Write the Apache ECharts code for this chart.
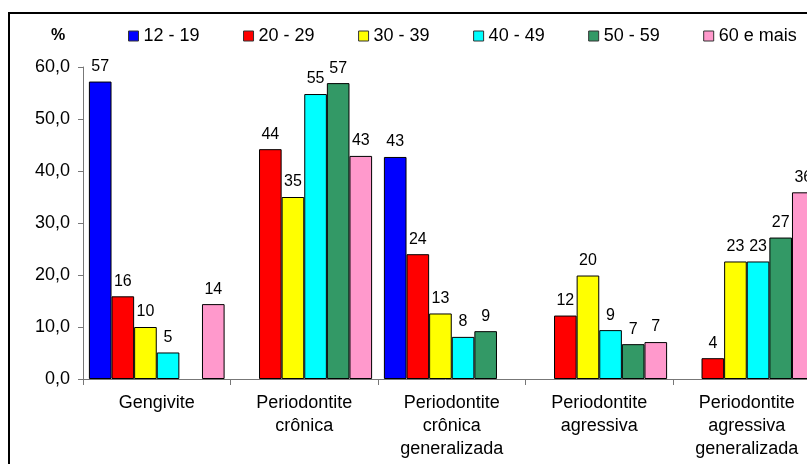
<!DOCTYPE html>
<html lang="pt">
<head>
    <meta charset="UTF-8">
    <title>Doença periodontal por faixa etária</title>
    <script src="https://cdn.jsdelivr.net/npm/echarts/dist/echarts.min.js"></script>
    <style>
        html, body { margin: 0; padding: 0; background: #fff; }
        #main { width: 807px; height: 464px; }
    </style>
</head>
<body>
    <div id="main"></div>
    <script>
        // categorias e faixas etárias
        var categorias = ['Gengivite', 'Periodontite\ncrônica', 'Periodontite\ncrônica\ngeneralizada',
            'Periodontite\nagressiva', 'Periodontite\nagressiva\ngeneralizada'];
        var faixas = ['12 - 19', '20 - 29', '30 - 39', '40 - 49', '50 - 59', '60 e mais'];
        var cores = ['#0000FF', '#FF0000', '#FFFF00', '#00FFFF', '#339966', '#FF99CC'];

        // valores (%) por faixa, na ordem das categorias
        var v12_19 = [57.2, null, 42.7, null, null];
        var v20_29 = [15.9, 44.2, 24.0, 12.2, 4.0];
        var v30_39 = [10.0, 35.0, 12.6, 19.9, 22.6];
        var v40_49 = [5.1, 54.8, 8.1, 9.4, 22.6];
        var v50_59 = [null, 56.9, 9.2, 6.7, 27.2];
        var v60_mais = [14.4, 42.9, null, 7.1, 35.9];
        var valores = [v12_19, v20_29, v30_39, v40_49, v50_59, v60_mais];

        var yTicks = { min: 0, max: 60, interval: 10 };

        var chartDom = document.getElementById('main');
        var myChart = echarts.init(chartDom);
        var fonte = 'Arial, "Liberation Sans", sans-serif';

        var series = faixas.map(function (nome, i) {
            return {
                name: nome,
                type: 'bar',
                data: valores[i],
                barGap: 0,
                barCategoryGap: '8%',
                itemStyle: { color: cores[i], borderColor: '#000', borderWidth: 1 },
                label: {
                    show: true,
                    position: 'top',
                    distance: 7,
                    color: '#000',
                    fontSize: 16,
                    fontFamily: fonte,
                    formatter: function (p) { return Math.round(p.value); }
                }
            };
        });

        var option = {
            animation: false,
            backgroundColor: '#fff',
            title: {
                text: '%',
                left: 46,
                top: 23,
                textStyle: { fontSize: 16, fontWeight: 'bold', color: '#000', fontFamily: fonte }
            },
            legend: {
                left: 123,
                top: 22,
                width: 1000,
                itemWidth: 10,
                itemHeight: 10,
                itemGap: 43.5,
                icon: 'rect',
                itemStyle: { borderColor: '#333', borderWidth: 1 },
                textStyle: { fontSize: 18, color: '#000', fontFamily: fonte },
                data: faixas
            },
            grid: {
                left: 83,
                top: 67,
                right: -13.5,
                bottom: 85,
                containLabel: false,
                outerBoundsMode: 'none'
            },
            xAxis: {
                type: 'category',
                data: categorias,
                axisLine: { lineStyle: { color: '#777', width: 1 } },
                axisTick: { show: true, length: 6, lineStyle: { color: '#777' } },
                axisLabel: {
                    interval: 0,
                    margin: 13,
                    fontSize: 18,
                    lineHeight: 23,
                    color: '#000',
                    fontFamily: fonte
                }
            },
            yAxis: {
                type: 'value',
                min: yTicks.min,
                max: yTicks.max,
                interval: yTicks.interval,
                splitLine: { show: false },
                axisLine: { show: true, lineStyle: { color: '#777', width: 1 } },
                axisTick: { show: true, length: 5, lineStyle: { color: '#777' } },
                axisLabel: {
                    margin: 13,
                    fontSize: 18,
                    color: '#000',
                    fontFamily: fonte,
                    formatter: function (v) { return v.toFixed(1).replace('.', ','); }
                }
            },
            graphic: [{
                type: 'rect',
                shape: { x: 9, y: 13, width: 900, height: 500 },
                style: { fill: 'none', stroke: '#000', lineWidth: 2 },
                silent: true
            }],
            series: series
        };

        myChart.setOption(option);
    </script>
</body>
</html>
